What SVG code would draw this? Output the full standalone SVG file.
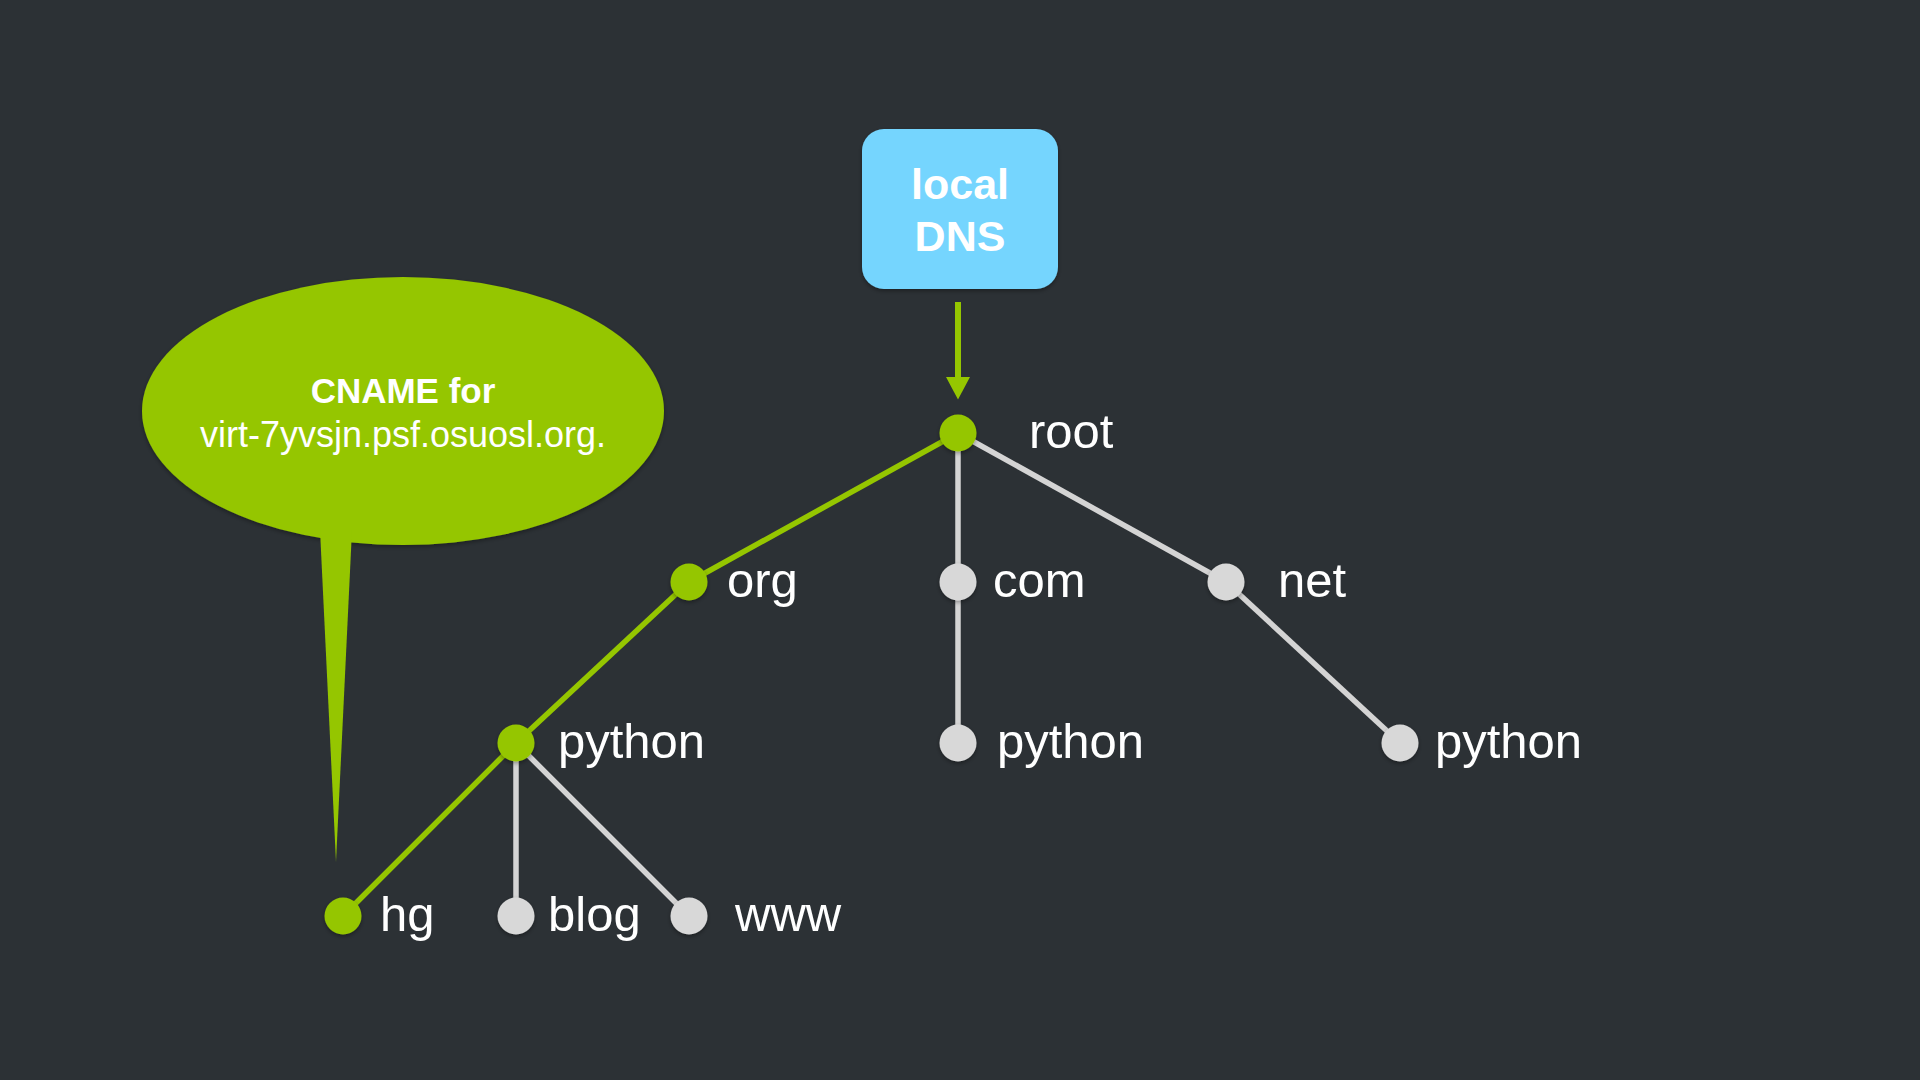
<svg xmlns="http://www.w3.org/2000/svg" width="1920" height="1080" viewBox="0 0 1920 1080">
  <defs>
    <filter id="sh" x="-30%" y="-30%" width="160%" height="160%">
      <feDropShadow dx="0" dy="2" stdDeviation="2" flood-color="#000" flood-opacity="0.35"/>
    </filter>
    <marker id="arrow" markerWidth="24" markerHeight="24" refX="0" refY="0" orient="auto" markerUnits="userSpaceOnUse" viewBox="0 -12 24 24" overflow="visible">
      <path d="M0,-12 L22.5,0 L0,12 Z" fill="#95c600"/>
    </marker>
    <style>
      .lbl { font-family: "Liberation Sans", Arial, sans-serif; font-size: 49px; fill: #ffffff; }
      .g { fill: #95c600; filter: url(#sh); }
      .w { fill: #d8d8d8; filter: url(#sh); }
      .lg { stroke: #95c600; stroke-width: 5.5; fill: none; }
      .lw { stroke: #d4d4d4; stroke-width: 5.5; fill: none; }
    </style>
  </defs>
  <rect width="1920" height="1080" fill="#2c3135"/>

  <g id="callout">
    <ellipse cx="403" cy="411" rx="261" ry="134" fill="#95c600" filter="url(#sh)"/>
    <polygon points="320,530 352,530 336,862" fill="#95c600"/>
    <text x="403" y="403" text-anchor="middle" font-family="Liberation Sans, Arial, sans-serif" font-weight="bold" font-size="35" fill="#ffffff">CNAME for</text>
    <text x="403" y="447" text-anchor="middle" font-family="Liberation Sans, Arial, sans-serif" font-weight="300" font-size="36" fill="#ffffff">virt-7yvsjn.psf.osuosl.org.</text>
  </g>

  <g id="local-dns">
    <rect x="862" y="129" width="196" height="160" rx="22" fill="#75d5fe" filter="url(#sh)"/>
    <text x="960" y="199" text-anchor="middle" font-family="Liberation Sans, Arial, sans-serif" font-weight="bold" font-size="43" fill="#ffffff">local</text>
    <text x="960" y="251" text-anchor="middle" font-family="Liberation Sans, Arial, sans-serif" font-weight="bold" font-size="43" fill="#ffffff">DNS</text>
  </g>

  <g id="connectors">
    <line x1="958" y1="302" x2="958" y2="377" stroke="#95c600" stroke-width="6" marker-end="url(#arrow)"/>
    <line class="lg" x1="958" y1="433" x2="689" y2="582"/>
    <line class="lw" x1="958" y1="433" x2="958" y2="582"/>
    <line class="lw" x1="958" y1="433" x2="1226" y2="582"/>
    <line class="lg" x1="689" y1="582" x2="516" y2="743"/>
    <line class="lw" x1="958" y1="582" x2="958" y2="743"/>
    <line class="lw" x1="1226" y1="582" x2="1400" y2="743"/>
    <line class="lg" x1="516" y1="743" x2="343" y2="916"/>
    <line class="lw" x1="516" y1="743" x2="516" y2="916"/>
    <line class="lw" x1="516" y1="743" x2="689" y2="916"/>
  </g>

  <g id="root"><circle class="g" cx="958" cy="433" r="18.5"/><text class="lbl" x="1029" y="448">root</text></g>
  <g id="org"><circle class="g" cx="689" cy="582" r="18.5"/><text class="lbl" x="727" y="597">org</text></g>
  <g id="com"><circle class="w" cx="958" cy="582" r="18.5"/><text class="lbl" x="993" y="597">com</text></g>
  <g id="net"><circle class="w" cx="1226" cy="582" r="18.5"/><text class="lbl" x="1278" y="597">net</text></g>
  <g id="org-python"><circle class="g" cx="516" cy="743" r="18.5"/><text class="lbl" x="558" y="758">python</text></g>
  <g id="com-python"><circle class="w" cx="958" cy="743" r="18.5"/><text class="lbl" x="997" y="758">python</text></g>
  <g id="net-python"><circle class="w" cx="1400" cy="743" r="18.5"/><text class="lbl" x="1435" y="758">python</text></g>
  <g id="hg"><circle class="g" cx="343" cy="916" r="18.5"/><text class="lbl" x="380" y="931">hg</text></g>
  <g id="blog"><circle class="w" cx="516" cy="916" r="18.5"/><text class="lbl" x="548" y="931">blog</text></g>
  <g id="www"><circle class="w" cx="689" cy="916" r="18.5"/><text class="lbl" x="735" y="931">www</text></g>
</svg>
